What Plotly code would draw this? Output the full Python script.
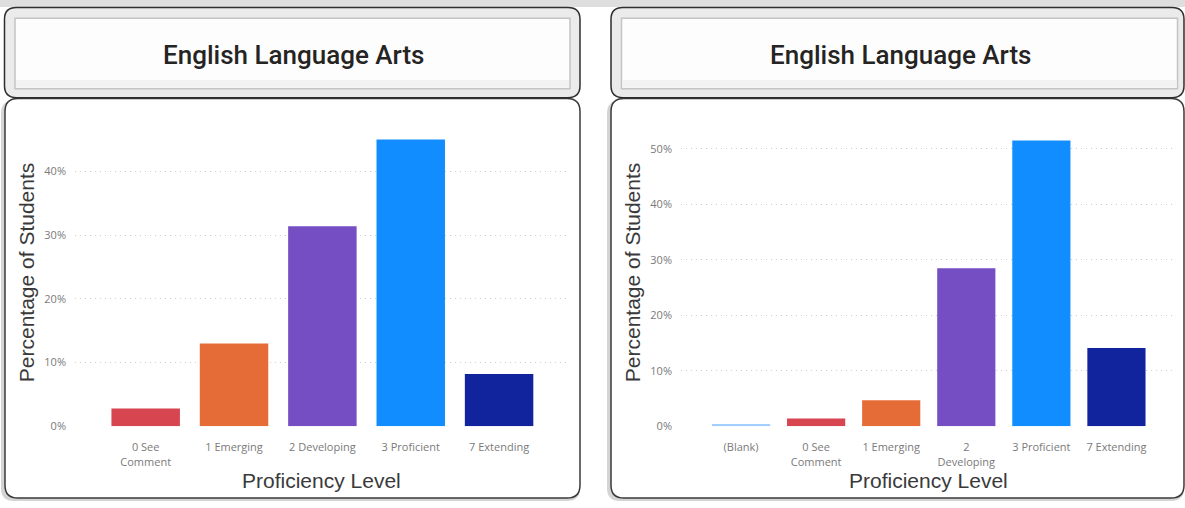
import plotly.graph_objects as go

# ---------------- data ----------------
left_categories = ["0 See Comment", "1 Emerging", "2 Developing", "3 Proficient", "7 Extending"]
left_tick_labels = ["0 See<br>Comment", "1 Emerging", "2 Developing", "3 Proficient", "7 Extending"]
left_values = [0.028, 0.130, 0.314, 0.450, 0.082]

right_categories = ["(Blank)", "0 See Comment", "1 Emerging", "2 Developing", "3 Proficient", "7 Extending"]
right_tick_labels = ["(Blank)", "0 See<br>Comment", "1 Emerging", "2<br>Developing", "3 Proficient", "7 Extending"]
right_values = [0.004, 0.014, 0.047, 0.285, 0.515, 0.141]

chart_title = "English Language Arts"
x_title = "Proficiency Level"
y_title = "Percentage of Students"

category_colors = {
    "(Blank)": "#A3D0FF",
    "0 See Comment": "#D64550",
    "1 Emerging": "#E66C37",
    "2 Developing": "#744EC2",
    "3 Proficient": "#118DFF",
    "7 Extending": "#12239E",
}

# ---------------- layout helpers ----------------
W, H = 1185, 508


def px_x(x):
    return x / W


def px_y(y):
    return 1 - y / H


def rounded_path(x0, y0, x1, y1, r):
    """Rounded rectangle path in paper coordinates from pixel box."""
    X = lambda v: f"{px_x(v):.6f}"
    Y = lambda v: f"{px_y(v):.6f}"
    return (
        f"M {X(x0 + r)} {Y(y0)} L {X(x1 - r)} {Y(y0)} "
        f"Q {X(x1)} {Y(y0)} {X(x1)} {Y(y0 + r)} "
        f"L {X(x1)} {Y(y1 - r)} Q {X(x1)} {Y(y1)} {X(x1 - r)} {Y(y1)} "
        f"L {X(x0 + r)} {Y(y1)} Q {X(x0)} {Y(y1)} {X(x0)} {Y(y1 - r)} "
        f"L {X(x0)} {Y(y0 + r)} Q {X(x0)} {Y(y0)} {X(x0 + r)} {Y(y0)} Z"
    )


fig = go.Figure()

fig.add_trace(go.Bar(
    x=left_categories, y=left_values,
    marker=dict(color=[category_colors[c] for c in left_categories], line=dict(width=0)),
    xaxis="x", yaxis="y", showlegend=False,
    hovertemplate="%{x}: %{y:.1%}<extra></extra>",
))
fig.add_trace(go.Bar(
    x=right_categories, y=right_values,
    marker=dict(color=[category_colors[c] for c in right_categories], line=dict(width=0)),
    xaxis="x2", yaxis="y2", showlegend=False,
    hovertemplate="%{x}: %{y:.1%}<extra></extra>",
))

tick_font = dict(family="Open Sans, Noto Sans, sans-serif", size=11, color="#7a7a7a")
title_font = dict(family="Liberation Sans, Arial, sans-serif", size=21, color="#3a3a3a")

y_dom = [px_y(432.3), px_y(128.5)]

common_x = dict(
    type="category", showgrid=False, zeroline=False, showline=False, ticks="",
    tickfont=tick_font, ticklabelstandoff=13, fixedrange=True,
)
common_y = dict(
    showgrid=True, gridcolor="#d0d0d0", griddash="1px,4px", gridwidth=1,
    zeroline=False, showline=False, ticks="", tickformat=".0%", dtick=0.1,
    tickfont=tick_font, ticklabelstandoff=8, fixedrange=True,
)

fig.update_layout(
    width=W, height=H,
    margin=dict(l=0, r=0, t=0, b=0),
    paper_bgcolor="white", plot_bgcolor="rgba(0,0,0,0)",
    bargap=0.225,
    xaxis=dict(common_x, domain=[px_x(75), px_x(568)], range=[-0.8, 4.78],
               tickvals=left_categories, ticktext=left_tick_labels, anchor="y"),
    yaxis=dict(common_y, domain=y_dom, range=[0, 0.47], anchor="x"),
    xaxis2=dict(common_x, domain=[px_x(681), px_x(1175)], range=[-0.8, 5.78],
                tickvals=right_categories, ticktext=right_tick_labels, anchor="y2"),
    yaxis2=dict(common_y, domain=y_dom, range=[0, 0.54], anchor="x2"),
)

# ---------------- decorative panels ----------------
shapes = []
shapes.append(dict(type="rect", xref="paper", yref="paper", x0=0, x1=1,
                   y0=px_y(7), y1=1, fillcolor="#dedede", line=dict(width=0), layer="below"))

panels = [
    dict(outer=(4.5, 7.5, 580, 99), inner=(15, 18.5, 570, 90), chart=(5, 100, 580, 505)),
    dict(outer=(611, 7.5, 1184, 99), inner=(621.5, 18.5, 1177.5, 90), chart=(611, 100, 1184, 505)),
]
for p in panels:
    cx0, cy0, cx1, cy1 = p["chart"]
    shapes.append(dict(type="path", xref="paper", yref="paper",
                       path=rounded_path(cx0 - 4, cy0 + 2, cx1, cy1 + 3, 13),
                       fillcolor="#d4d4d4", line=dict(width=0), layer="below"))
    shapes.append(dict(type="path", xref="paper", yref="paper",
                       path=rounded_path(cx0, cy0, cx1, cy1, 13),
                       fillcolor="white", line=dict(color="#3a3a3a", width=1.5), layer="below"))
    ox0, oy0, ox1, oy1 = p["outer"]
    shapes.append(dict(type="path", xref="paper", yref="paper",
                       path=rounded_path(ox0, oy0, ox1, oy1, 12),
                       fillcolor="#ebebeb", line=dict(color="#2e2e2e", width=1.5), layer="below"))
    ix0, iy0, ix1, iy1 = p["inner"]
    shapes.append(dict(type="rect", xref="paper", yref="paper",
                       x0=px_x(ix0), x1=px_x(ix1), y0=px_y(iy1), y1=px_y(iy0),
                       fillcolor="#fdfdfd", line=dict(color="#c4c4c4", width=1.5), layer="below"))
    shapes.append(dict(type="rect", xref="paper", yref="paper",
                       x0=px_x(ix0 + 1), x1=px_x(ix1 - 1), y0=px_y(iy1 - 1), y1=px_y(iy1 - 9),
                       fillcolor="#f2f2f2", line=dict(width=0), layer="below"))

fig.update_layout(shapes=shapes)

# ---------------- text ----------------
annotations = []
for cx in (293.5, 900):
    annotations.append(dict(text=chart_title, xref="paper", yref="paper",
                            x=px_x(cx), y=px_y(56), xanchor="center", yanchor="middle",
                            showarrow=False,
                            font=dict(family="Roboto, sans-serif", size=26, color="#252423", weight=500)))
for cx in (321.5, 928):
    annotations.append(dict(text=x_title, xref="paper", yref="paper",
                            x=px_x(cx), y=px_y(487), xanchor="center", yanchor="middle",
                            showarrow=False, font=title_font))
for cx in (26, 632):
    annotations.append(dict(text=y_title, xref="paper", yref="paper",
                            x=px_x(cx), y=px_y(276), xanchor="center", yanchor="middle",
                            textangle=-90, showarrow=False, font=title_font))
fig.update_layout(annotations=annotations)

fig.write_html(
    "out.html",
    config={"displayModeBar": False},
    post_script="document.body.style.margin='0px';document.body.style.overflow='hidden';",
)
